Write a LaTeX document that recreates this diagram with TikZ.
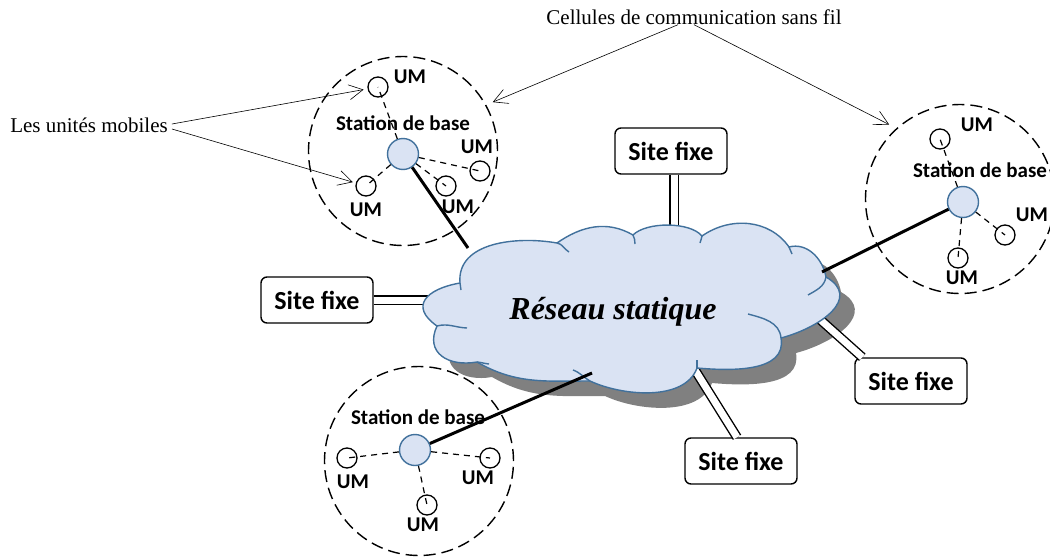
\documentclass[tikz,border=0pt]{standalone}
\usepackage{fontspec}
\setmainfont{Liberation Serif}
\newfontfamily\carlito{Carlito}
\usetikzlibrary{arrows.meta}
\definecolor{cloudfill}{RGB}{218,227,243}
\definecolor{cloudline}{RGB}{65,113,156}
\definecolor{shadowgray}{RGB}{128,128,128}

\begin{document}
\begin{tikzpicture}[x=1pt,y=1pt,
  cell/.style={circle, draw, dash pattern=on 12pt off 6pt, line width=1.4pt,
    minimum size=189pt, inner sep=0pt},
  bs/.style={circle, draw=cloudline, fill=cloudfill, line width=1.4pt,
    minimum size=31pt, inner sep=0pt},
  um/.style={circle, draw, line width=1.3pt, minimum size=20pt, inner sep=0pt},
  umtxt/.style={font=\carlito\bfseries\fontsize{21}{24}\selectfont, inner sep=0pt},
  bstxt/.style={umtxt},
  site/.style={draw, rounded corners=6pt, line width=1.4pt, fill=white,
    minimum width=112pt, minimum height=46pt, inner sep=0pt,
    font=\carlito\bfseries\fontsize{26}{30}\selectfont},
  radio/.style={dash pattern=on 6pt off 5pt, line width=1.2pt},
  wire/.style={line width=3pt},
  fixlink/.style={double, double distance=7pt, line width=1.4pt},
  note/.style={font=\fontsize{21}{25}\selectfont, inner sep=0pt},
  pointer/.style={line width=0.6pt, -{Straight Barb[length=14pt,width=15pt]}},
  cloudshape/.style={insert path={
    (460,-283) to[out=95,in=170] (557,-243)
    to[out=35,in=150] (633,-235)
    to[out=45,in=130,looseness=0.7] (702,-236)
    to[out=35,in=125] (789,-247)
    to[out=15,in=100] (826,-277)
    to[out=-30,in=15,looseness=1.4] (781,-338)
    to[out=-80,in=-5] (697,-368)
    to[out=-110,in=-25,looseness=0.85] (590,-381)
    to[out=180,in=-30] (477,-362)
    to[out=190,in=245,looseness=1.4] (437,-326)
    to[out=145,in=190,looseness=1.8] (460,-283) -- cycle}}
]
\fill[white] (0,0) rectangle (1050,-557);
\useasboundingbox (0,0) rectangle (1050,-557);

% cloud shadow
\begin{scope}[shift={(15,-15)}]
  \fill[shadowgray] [cloudshape];
\end{scope}

% fixed sites and their links to the static network
\node[site] (siteL) at (317,-300) {Site fixe};
\node[site] (siteT) at (671,-151) {Site fixe};
\node[site] (siteR) at (911,-381) {Site fixe};
\node[site] (siteD) at (741,-461) {Site fixe};
\coordinate (fA) at (432,-300);
\coordinate (fB) at (674,-242);
\coordinate (fC) at (815,-315);
\coordinate (fD) at (690,-362);
\draw[fixlink] (siteL.east) -- (fA);
\draw[fixlink] ([xshift=3pt]siteT.south) -- (fB);
\draw[fixlink] (fC) -- ([xshift=8pt]siteR.north west);
\draw[fixlink] (fD) -- ([xshift=-4pt]siteD.north);

% the static network cloud
\path[fill=cloudfill, draw=cloudline, line width=1.4pt] [cloudshape];
\begin{scope}[cloudline, line width=1.4pt]
  \draw (557,-243) to[out=-10,in=150] (569,-252);
  \draw (633,-235) to[out=-60,in=95] (635,-244);
  \draw (702,-236) to[out=-95,in=80] (700,-243);
  \draw (789,-247) to[out=-60,in=110] (792,-254);
  \draw (826,-277) to[out=-100,in=30] (808,-295);
  \draw (781,-338) to[out=95,in=-15] (748,-314);
  \draw (697,-368) to[out=95,in=-95] (697,-360);
  \draw (590,-381) to[out=150,in=-20] (573,-370);
  \draw (477,-362) to[out=-5,in=175] (489,-364);
  \draw (437,-326) to[out=15,in=178] (467,-328);
  \draw (460,-283) to[out=-85,in=95] (461,-290);
\end{scope}
\node[font=\bfseries\itshape\fontsize{32}{36}\selectfont] (net) at (613,-312) {Réseau statique};

% cell A (top left)
\node[cell] (cellA) at (403,-151) {};
\node[bs] (bsA) at (403,-154) {};
\node[um] (umA1) at (378,-87) {};
\node[um] (umA2) at (480,-171) {};
\node[um] (umA3) at (446,-186) {};
\node[um] (umA4) at (366,-186) {};
\draw[radio] (bsA) -- (umA1.center);
\draw[radio] (bsA) -- (umA2.center);
\draw[radio] (bsA) -- (umA3.center);
\draw[radio] (bsA) -- (umA4.center);
\node[bstxt] (lbA) at (403,-123) {Station de base};
\node[umtxt] (tA1) at (410,-77) {UM};
\node[umtxt] (tA2) at (477,-147) {UM};
\node[umtxt] (tA3) at (458,-207) {UM};
\node[umtxt] (tA4) at (366,-210) {UM};

% cell B (right)
\node[cell] (cellB) at (960,-199) {};
\node[bs] (bsB) at (963,-202) {};
\node[um] (umB1) at (940,-139) {};
\node[um] (umB2) at (1005,-235) {};
\node[um] (umB3) at (958,-258) {};
\draw[radio] (bsB) -- (umB1.center);
\draw[radio] (bsB) -- (umB2.center);
\draw[radio] (bsB) -- (umB3.center);
\node[bstxt] (lbB) at (980,-170) {Station de base};
\node[umtxt] (tB1) at (977,-125) {UM};
\node[umtxt] (tB2) at (1032,-215) {UM};
\node[umtxt] (tB3) at (962,-278) {UM};

% cell C (bottom left)
\node[cell] (cellC) at (419,-461) {};
\node[bs] (bsC) at (415,-450) {};
\node[um] (umC1) at (347,-458) {};
\node[um] (umC2) at (490,-458) {};
\node[um] (umC3) at (427,-505) {};
\draw[radio] (bsC) -- (umC1.center);
\draw[radio] (bsC) -- (umC2.center);
\draw[radio] (bsC) -- (umC3.center);
\node[bstxt] (lbC) at (418,-417) {Station de base};
\node[umtxt] (tC1) at (353,-482) {UM};
\node[umtxt] (tC2) at (478,-478) {UM};
\node[umtxt] (tC3) at (423,-525) {UM};

% base stations wired to the static network
\coordinate (wA) at (468,-248);
\coordinate (wB) at (822,-272);
\coordinate (wC) at (592,-373);
\draw[wire] (bsA) -- (wA);
\draw[wire] (bsB) -- (wB);
\draw[wire] (bsC) -- (wC);

% annotations
\node[note] (mob) at (89,-125) {Les unités mobiles};
\draw[pointer, shorten >=4pt] ([shift={(4pt,1pt)}]mob.east) -- (umA1);
\draw[pointer, shorten >=3pt] ([shift={(4pt,-4pt)}]mob.east) -- (umA4);
\node[note] (cel) at (694,-17) {Cellules de communication sans fil};
\draw[pointer, shorten >=7pt] ([xshift=-16pt]cel.south) -- (cellA.29);
\draw[pointer, shorten >=8pt] (cel.south) -- (cellB.132);
\end{tikzpicture}
\end{document}
